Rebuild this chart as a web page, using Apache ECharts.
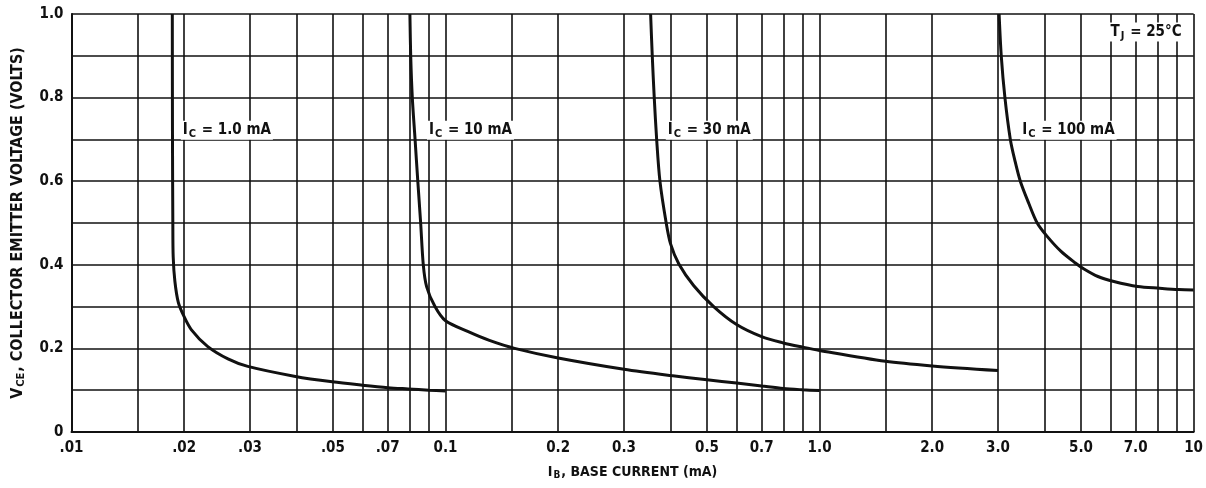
<!DOCTYPE html>
<html>
<head>
<meta charset="utf-8">
<script src="https://cdn.jsdelivr.net/npm/echarts@6/dist/echarts.min.js"></script>
<style>
  html, body { margin: 0; padding: 0; background: #ffffff; }
  #chart { width: 1206px; height: 488px; }
</style>
</head>
<body>
<div id="chart"></div>
<script>
// Vertical grid positions on the log base-current axis (mA)
const gridValues = [
  0.01, 0.015, 0.02, 0.03, 0.04, 0.05, 0.06, 0.07, 0.08, 0.09,
  0.1, 0.15, 0.2, 0.3, 0.4, 0.5, 0.6, 0.7, 0.8, 0.9,
  1, 1.5, 2, 3, 4, 5, 6, 7, 8, 9, 10
];
// Labelled base-current ticks and their printed text
const xLabelValues = [0.01, 0.02, 0.03, 0.05, 0.07, 0.1, 0.2, 0.3, 0.5, 0.7, 1, 2, 3, 5, 7, 10];
const xLabelTexts  = ['.01', '.02', '.03', '.05', '.07', '0.1', '0.2', '0.3', '0.5', '0.7', '1.0', '2.0', '3.0', '5.0', '7.0', '10'];
// Labelled collector-emitter voltage ticks
const yLabelValues = [0, 0.2, 0.4, 0.6, 0.8, 1.0];
const yLabelTexts  = ['0', '0.2', '0.4', '0.6', '0.8', '1.0'];

// V_CE (volts) versus I_B (mA) for each collector current
const curveIc1 = [
  [0.0186, 1.0], [0.01862, 0.7], [0.01866, 0.5], [0.0187, 0.42], [0.0189, 0.36],
  [0.0193, 0.31], [0.0199, 0.28], [0.0209, 0.245], [0.0231, 0.205], [0.0262, 0.175],
  [0.0296, 0.157], [0.0397, 0.133], [0.0498, 0.12], [0.0599, 0.112], [0.0702, 0.106],
  [0.0794, 0.103], [0.0903, 0.1], [0.1, 0.098]
];
const curveIc10 = [
  [0.0803, 1.0], [0.0807, 0.9], [0.0815, 0.8], [0.0829, 0.7], [0.0843, 0.6],
  [0.0858, 0.5], [0.0872, 0.4], [0.089, 0.348], [0.0937, 0.3], [0.1, 0.266],
  [0.115, 0.24], [0.131, 0.219], [0.153, 0.2], [0.2, 0.177], [0.3, 0.15],
  [0.4, 0.135], [0.5, 0.125], [0.6, 0.117], [0.7, 0.11], [0.8, 0.104],
  [0.9, 0.101], [1.0, 0.099]
];
const curveIc30 = [
  [0.3534, 1.0], [0.357, 0.9], [0.3614, 0.8], [0.3668, 0.7], [0.3743, 0.6],
  [0.389, 0.5], [0.3996, 0.45], [0.4205, 0.402], [0.461, 0.35], [0.521, 0.3],
  [0.6, 0.257], [0.7, 0.228], [0.8, 0.213], [0.9, 0.203], [1.0, 0.195],
  [1.5, 0.169], [2.0, 0.158], [3.0, 0.147]
];
const curveIc100 = [
  [3.02, 1.0], [3.06, 0.9], [3.13, 0.8], [3.236, 0.7], [3.327, 0.65],
  [3.441, 0.6], [3.614, 0.55], [3.818, 0.5], [4.059, 0.468], [4.422, 0.432],
  [4.819, 0.405], [5.093, 0.39], [5.549, 0.372], [6.121, 0.36], [7.09, 0.348],
  [8.114, 0.344], [9.116, 0.341], [10, 0.34]
];

// Curve captions: [I_B, V_CE, subscript letter, trailing text]
const curveCaptions = [
  [0.0196, 0.722, 'C', ' = 1.0 mA'],
  [0.0892, 0.722, 'C', ' = 10 mA'],
  [0.388, 0.722, 'C', ' = 30 mA'],
  [3.44, 0.722, 'C', ' = 100 mA']
];
const tempCaption = [9.4, 0.957, 'T', 'J', ' = 25°C'];

const FONT = "'Liberation Sans Narrow', 'DejaVu Sans Condensed', 'Arial Narrow', sans-serif";
const INK = '#111111';

function textFor(values, texts, v, logScale) {
  for (let i = 0; i < values.length; i++) {
    const d = logScale ? Math.abs(Math.log10(v) - Math.log10(values[i])) : Math.abs(v - values[i]);
    if (d < 1e-6) return texts[i];
  }
  return '';
}

function richSet(size, subSize, weight) {
  return {
    m: { fontFamily: FONT, fontSize: size, fontWeight: weight, color: INK, lineHeight: size + 4 },
    s: { fontFamily: FONT, fontSize: subSize, fontWeight: weight, color: INK,
         padding: [Math.round(size * 0.5), 1, 0, 1], lineHeight: size + 4 }
  };
}

const curveSeries = [curveIc1, curveIc10, curveIc30, curveIc100].map((d, i) => ({
  type: 'line',
  name: 'curve' + i,
  data: d,
  showSymbol: false,
  symbol: 'none',
  smooth: 0.3,
  lineStyle: { color: INK, width: 3 },
  z: 5
}));

function captionLabel(position, formatter) {
  return {
    show: true,
    position: position,
    distance: 0,
    opacity: 1,
    color: INK,
    backgroundColor: '#ffffff',
    padding: [0, 2, 0, 2],
    formatter: formatter,
    rich: richSet(15, 11, 'bold')
  };
}

const chart = echarts.init(document.getElementById('chart'), null, { renderer: 'canvas' });
chart.setOption({
  animation: false,
  backgroundColor: '#ffffff',
  grid: { left: 70, right: 9, top: 14, bottom: 56 },
  xAxis: {
    type: 'log',
    logBase: 10,
    min: 0.01,
    max: 10,
    name: '{m|I}{s|B}{m|, BASE CURRENT (mA)}',
    nameLocation: 'middle',
    nameGap: 31,
    nameTextStyle: { rich: richSet(14, 10, 'bold') },
    axisLine: { show: true, lineStyle: { color: INK, width: 2 } },
    axisTick: { show: false, customValues: gridValues },
    axisLabel: {
      customValues: xLabelValues,
      formatter: v => textFor(xLabelValues, xLabelTexts, v, true),
      fontFamily: FONT, fontSize: 15, fontWeight: 'bold', color: INK, margin: 9
    },
    splitLine: { show: true, lineStyle: { color: INK, width: 1.6 } },
    minorSplitLine: { show: false }
  },
  yAxis: {
    type: 'value',
    min: 0,
    max: 1,
    interval: 0.1,
    name: '{m|V}{s|CE}{m|, COLLECTOR EMITTER VOLTAGE (VOLTS)}',
    nameLocation: 'middle',
    nameGap: 44,
    nameTextStyle: { rich: richSet(16, 11, 'bold') },
    axisLine: { show: true, lineStyle: { color: INK, width: 2 } },
    axisTick: { show: false },
    axisLabel: {
      formatter: v => textFor(yLabelValues, yLabelTexts, v, false),
      fontFamily: FONT, fontSize: 15, fontWeight: 'bold', color: INK, margin: 8
    },
    splitLine: { show: true, lineStyle: { color: INK, width: 1.6 } }
  },
  series: curveSeries.concat([
    {
      type: 'scatter',
      name: 'captions',
      symbolSize: 0,
      itemStyle: { opacity: 1 },
      data: curveCaptions.map(c => ({ value: [c[0], c[1]], sub: c[2], rest: c[3] })),
      label: captionLabel('right', p => '{m|I}{s|' + p.data.sub + '}{m|' + p.data.rest + '}'),
      emphasis: { disabled: true },
      z: 6
    },
    {
      type: 'scatter',
      name: 'temperature',
      symbolSize: 0,
      itemStyle: { opacity: 1 },
      data: [{ value: [tempCaption[0], tempCaption[1]] }],
      label: captionLabel('left', () => '{m|' + tempCaption[2] + '}{s|' + tempCaption[3] + '}{m|' + tempCaption[4] + '}'),
      emphasis: { disabled: true },
      z: 6
    }
  ])
});
</script>
</body>
</html>
